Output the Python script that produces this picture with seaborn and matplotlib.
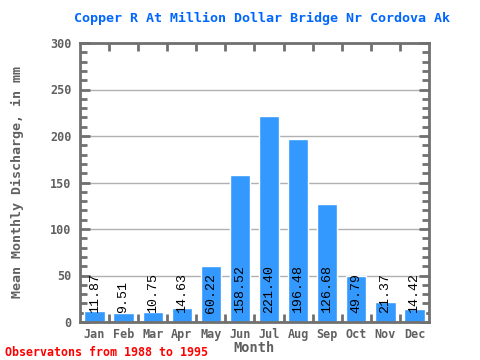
import matplotlib
matplotlib.use("Agg")
import matplotlib.pyplot as plt
import seaborn as sns
import numpy as np
import pandas as pd

months = ["Jan", "Feb", "Mar", "Apr", "May", "Jun",
          "Jul", "Aug", "Sep", "Oct", "Nov", "Dec"]
discharge = [11.87, 9.51, 10.75, 14.63, 60.22, 158.52,
             221.40, 196.48, 126.68, 49.79, 21.37, 14.42]

title = "Copper R At Million Dollar Bridge Nr Cordova Ak"
note = "Observatons from 1988 to 1995"

frame_gray = "#707070"
text_gray = "#606060"
bar_blue = "#3399ff"

sns.set_style("white")
plt.rcParams["font.family"] = ["DejaVu Sans Mono", "DejaVu Sans"]

df = pd.DataFrame({"Month": months, "Discharge": discharge})

fig = plt.figure(figsize=(4.8, 3.6), dpi=100)
ax = fig.add_axes([80 / 480, 38 / 360, 349 / 480, 279 / 360])

sns.barplot(data=df, x="Month", y="Discharge", color=bar_blue,
            saturation=1, width=0.7, ax=ax, zorder=2)

ax.set_xlim(-0.5, 11.5)
ax.set_ylim(0, 300)
ax.set_yticks(np.arange(0, 301, 50))
ax.set_yticks(np.arange(0, 301, 10), minor=True)
ax.set_xticks(np.arange(12))
ax.set_xticks(np.arange(0.5, 11.5, 1), minor=True)
ax.yaxis.grid(True, color="#b0b0b0", linewidth=1, zorder=1)
ax.set_axisbelow(True)

for side in ax.spines.values():
    side.set_color(frame_gray)
    side.set_linewidth(2)

ax.tick_params(axis="y", which="major", direction="in", length=7, width=2,
               color=frame_gray, left=True, right=True, labelcolor=text_gray,
               labelsize=8.5, pad=6)
ax.tick_params(axis="y", which="minor", direction="in", length=5, width=2,
               color=frame_gray, left=True, right=True)
ax.tick_params(axis="x", which="major", length=0, labelcolor=text_gray,
               labelsize=8.5, pad=4)
ax.tick_params(axis="x", which="minor", direction="in", length=6, width=2,
               color=frame_gray, bottom=True, top=True)
for lab in ax.get_xticklabels() + ax.get_yticklabels():
    lab.set_fontweight("bold")

for i, v in enumerate(discharge):
    ax.annotate(f"{v:.2f}", xy=(i, 0), xytext=(0, 6.5), textcoords="offset points",
                rotation=90, ha="center", va="bottom", fontsize=9.5,
                family="Liberation Mono", color="black", zorder=3)

ax.set_xlabel("Month", color=text_gray, fontsize=9.8, fontweight="bold")
ax.xaxis.set_label_coords(0.5, -19 / 279)
ax.set_ylabel("Mean Monthly Discharge, in mm", color=text_gray, fontsize=9.6,
              fontweight="bold")
ax.yaxis.set_label_coords(-56 / 349, 0.5)

fig.text(262 / 480, 0.95, title, ha="center", va="center", color="#0066ff",
         fontsize=9.6, fontweight="bold")
fig.text(5 / 480, 8 / 360, note, ha="left", va="center", color="red",
         fontsize=8.4, fontweight="bold")

fig.savefig("out.png", dpi=100)
